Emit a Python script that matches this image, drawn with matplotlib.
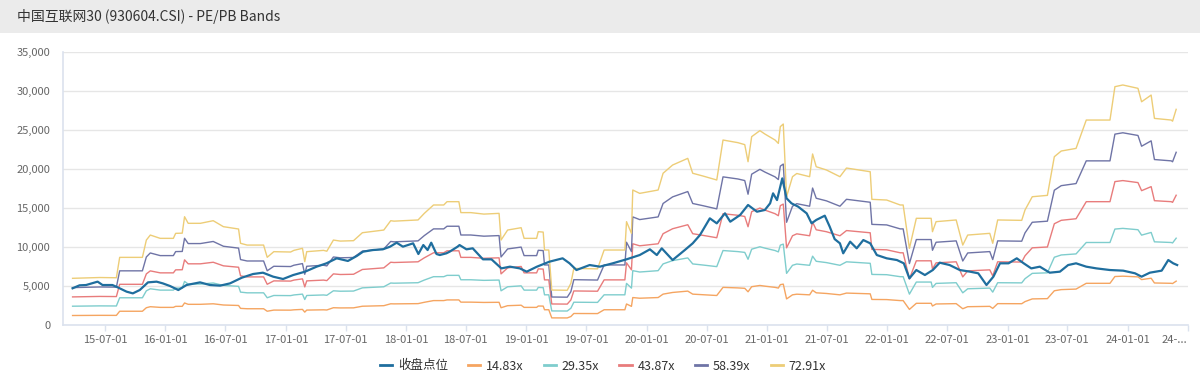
import matplotlib
matplotlib.use("Agg")
import matplotlib.pyplot as plt
import matplotlib.dates as mdates
from matplotlib.patches import Rectangle
from matplotlib.ticker import FuncFormatter, FixedLocator
import numpy as np
import pandas as pd

plt.rcParams['font.family'] = ['Noto Sans CJK SC', 'DejaVu Sans']

title = "中国互联网30 (930604.CSI) - PE/PB Bands"
close_name = "收盘点位"
multiples = [14.83, 29.35, 43.87, 58.39, 72.91]
band_names = ["14.83x", "29.35x", "43.87x", "58.39x", "72.91x"]

# Earnings per index point (band value / multiple)
eps_dates = [
    "2015-03-25", "2015-06-15", "2015-08-05", "2015-08-15", "2015-10-23", "2015-11-04",
    "2015-11-16", "2015-12-16", "2016-01-25", "2016-02-01", "2016-02-21", "2016-02-28",
    "2016-03-10", "2016-04-16", "2016-05-25", "2016-06-25", "2016-08-10", "2016-08-16",
    "2016-09-05", "2016-10-25", "2016-11-05", "2016-11-25", "2017-01-15", "2017-01-25",
    "2017-02-20", "2017-02-27", "2017-03-05", "2017-04-25", "2017-05-05", "2017-05-25",
    "2017-06-15", "2017-07-25", "2017-08-21", "2017-10-25", "2017-11-15", "2017-11-25",
    "2018-02-06", "2018-02-25", "2018-03-25", "2018-04-25", "2018-05-05", "2018-06-10",
    "2018-06-16", "2018-07-16", "2018-08-06", "2018-08-25", "2018-10-10", "2018-10-16",
    "2018-11-05", "2018-12-16", "2018-12-25", "2019-02-01", "2019-02-06", "2019-02-21",
    "2019-02-25", "2019-03-10", "2019-03-19", "2019-05-05", "2019-05-16", "2019-05-25",
    "2019-08-05", "2019-08-25", "2019-10-27", "2019-11-01", "2019-11-16", "2019-11-20",
    "2019-12-11", "2020-02-05", "2020-02-20", "2020-03-20", "2020-05-05", "2020-05-20",
    "2020-06-20", "2020-08-01", "2020-08-20", "2020-10-04", "2020-10-25", "2020-11-04",
    "2020-11-15", "2020-12-10", "2020-12-25", "2021-01-25", "2021-02-04", "2021-02-10",
    "2021-02-19", "2021-03-01", "2021-03-19", "2021-04-01", "2021-05-10", "2021-05-19",
    "2021-05-30", "2021-06-30", "2021-08-10", "2021-08-30", "2021-11-10", "2021-11-15",
    "2021-12-30", "2022-02-09", "2022-02-18", "2022-03-09", "2022-03-30", "2022-05-14",
    "2022-05-18", "2022-05-29", "2022-07-29", "2022-08-18", "2022-09-02", "2022-11-08",
    "2022-11-17", "2022-12-02", "2023-02-13", "2023-02-23", "2023-03-17", "2023-05-02",
    "2023-05-23", "2023-06-13", "2023-07-28", "2023-08-28", "2023-11-08", "2023-11-23",
    "2023-12-17", "2024-02-01", "2024-02-12", "2024-03-12", "2024-03-22", "2024-05-12",
    "2024-05-16", "2024-05-27",
]
eps_values = [
    82.0, 83.4, 83.0, 118.8, 118.8, 149.2,
    158.0, 152.2, 152.2, 161.0, 161.3, 190.2,
    178.6, 178.6, 183.2, 172.7, 168.6, 143.5,
    140.4, 140.4, 118.9, 128.8, 128.2, 131.1,
    134.7, 111.2, 128.8, 131.1, 129.6, 149.2,
    147.4, 148.1, 162.1, 166.8, 183.2, 182.4,
    184.5, 196.1, 210.8, 210.8, 216.6, 216.6,
    197.4, 197.4, 196.1, 194.8, 196.1, 149.2,
    166.8, 170.9, 152.2, 152.2, 163.9, 163.2,
    131.7, 131.7, 61.4, 61.0, 73.1, 99.4,
    98.6, 131.7, 131.7, 181.5, 161.0, 237.1,
    231.2, 237.1, 266.5, 281.0, 292.7, 266.5,
    261.7, 254.7, 324.9, 320.3, 316.8, 286.8,
    330.8, 341.4, 335.5, 324.9, 319.0, 348.4,
    353.0, 225.3, 260.5, 266.1, 260.5, 300.4,
    278.0, 272.3, 260.5, 275.7, 269.2, 220.7,
    219.5, 210.8, 210.8, 134.7, 187.4, 187.4,
    163.9, 181.5, 184.5, 140.4, 158.0, 161.0,
    143.5, 184.5, 183.8, 202.0, 225.3, 227.7,
    295.6, 305.6, 310.2, 360.0, 360.0, 418.6,
    421.6, 415.7, 392.1, 403.9, 362.9, 360.0,
    358.0, 378.8,
]

close_dates = [
    "2015-03-25", "2015-04-15", "2015-05-05", "2015-06-09", "2015-06-24", "2015-07-24",
    "2015-08-09", "2015-09-05", "2015-09-24", "2015-10-15", "2015-11-09", "2015-12-05",
    "2015-12-24", "2016-01-15", "2016-02-09", "2016-03-05", "2016-04-15", "2016-05-15",
    "2016-06-15", "2016-07-15", "2016-08-20", "2016-09-23", "2016-10-23", "2016-11-23",
    "2016-12-23", "2017-01-23", "2017-02-28", "2017-04-04", "2017-05-04", "2017-06-04",
    "2017-07-08", "2017-08-04", "2017-08-23", "2017-09-22", "2017-10-22", "2017-11-13",
    "2017-12-03", "2017-12-22", "2018-01-22", "2018-02-07", "2018-02-22", "2018-03-07",
    "2018-03-18", "2018-04-03", "2018-04-13", "2018-05-03", "2018-05-13", "2018-06-06",
    "2018-06-12", "2018-07-03", "2018-07-22", "2018-08-22", "2018-09-17", "2018-10-17",
    "2018-11-12", "2018-12-12", "2019-01-02", "2019-02-02", "2019-03-12", "2019-04-21",
    "2019-05-12", "2019-06-02", "2019-07-12", "2019-08-12", "2019-09-20", "2019-11-01",
    "2019-12-11", "2020-01-11", "2020-02-01", "2020-02-16", "2020-03-20", "2020-04-26",
    "2020-05-20", "2020-06-11", "2020-07-11", "2020-08-01", "2020-08-26", "2020-09-11",
    "2020-10-11", "2020-11-04", "2020-12-01", "2020-12-25", "2021-01-10", "2021-01-19",
    "2021-01-31", "2021-02-16", "2021-03-01", "2021-03-16", "2021-04-05", "2021-05-01",
    "2021-05-16", "2021-05-30", "2021-06-25", "2021-07-10", "2021-07-25", "2021-08-10",
    "2021-08-20", "2021-09-10", "2021-09-30", "2021-10-20", "2021-11-10", "2021-11-30",
    "2021-12-30", "2022-01-30", "2022-02-20", "2022-03-09", "2022-03-30", "2022-04-25",
    "2022-05-19", "2022-06-09", "2022-07-09", "2022-08-09", "2022-09-09", "2022-10-04",
    "2022-10-29", "2022-11-19", "2022-12-09", "2023-01-04", "2023-01-29", "2023-02-19",
    "2023-03-14", "2023-04-09", "2023-05-09", "2023-06-09", "2023-07-04", "2023-07-28",
    "2023-08-28", "2023-09-28", "2023-11-08", "2023-12-18", "2024-01-23", "2024-02-12",
    "2024-03-08", "2024-04-13", "2024-05-03", "2024-05-18", "2024-05-30",
]
close_values = [
    4700, 5080, 5120, 5550, 5120, 5120,
    4820, 4270, 4050, 4480, 5460, 5550,
    5330, 4990, 4480, 5120, 5460, 5120,
    5040, 5330, 6060, 6530, 6700, 6190,
    5890, 6400, 6830, 7470, 7900, 8540,
    8200, 8840, 9390, 9600, 9690, 10030,
    10540, 10030, 10460, 9090, 10240, 9600,
    10540, 9090, 8960, 9180, 9390, 10030,
    10240, 9690, 9820, 8410, 8410, 7250,
    7470, 7250, 6830, 7470, 8110, 8540,
    7900, 7040, 7680, 7470, 7900, 8410,
    8960, 9690, 8960, 9820, 8320, 9600,
    10460, 11520, 13660, 13020, 14300, 13230,
    14090, 15370, 14510, 14730, 15580, 16860,
    16000, 18780, 16220, 15580, 15160, 14300,
    13020, 13450, 14000, 12590, 11000, 10460,
    9180, 10670, 9820, 10880, 10460, 8960,
    8540, 8320, 7900, 5970, 7040, 6400,
    7040, 7980, 7680, 7040, 6830, 6620,
    5120, 6190, 7900, 7900, 8540, 7900,
    7250, 7470, 6700, 6830, 7680, 7900,
    7470, 7250, 7040, 6960, 6620, 6190,
    6700, 6960, 8320, 7900, 7680,
]

x_tick_dates = ["2015-07-01", "2016-01-01", "2016-07-01", "2017-01-01", "2017-07-01",
                "2018-01-01", "2018-07-01", "2019-01-01", "2019-07-01", "2020-01-01",
                "2020-07-01", "2021-01-01", "2021-07-01", "2022-01-01", "2022-07-01",
                "2023-01-01", "2023-07-01", "2024-01-01", "2024-07-01"]
x_tick_labels = ["15-07-01", "16-01-01", "16-07-01", "17-01-01", "17-07-01",
                 "18-01-01", "18-07-01", "19-01-01", "19-07-01", "20-01-01",
                 "20-07-01", "21-01-01", "21-07-01", "22-01-01", "22-07-01",
                 "23-01-01", "23-07-01", "24-01-01", "24-..."]
y_ticks = [0, 5000, 10000, 15000, 20000, 25000, 30000, 35000]

close_color = "#1f6e9e"
band_colors = ["#f5a561", "#7fcdcd", "#e87c7c", "#6f74a6", "#edcd77"]

eps_df = pd.DataFrame({"date": pd.to_datetime(eps_dates), "eps": eps_values})
close_df = pd.DataFrame({"date": pd.to_datetime(close_dates), "close": close_values})

fig = plt.figure(figsize=(12, 3.78), dpi=100)
fig.patches.append(Rectangle((0, 1 - 33 / 378), 1, 33 / 378, transform=fig.transFigure,
                             facecolor="#ebebeb", edgecolor="none", zorder=0))
fig.text(17 / 1200, 1 - 16 / 378, title, fontsize=10, color="#333333",
         ha="left", va="center")

ax = fig.add_axes([62.7 / 1200, 53 / 378, 1125 / 1200, (325 - 51.7) / 378])

ax.plot(close_df["date"], close_df["close"], color=close_color, lw=1.6,
        label=close_name, zorder=5)
for name, mult, col in zip(band_names, multiples, band_colors):
    ax.plot(eps_df["date"], eps_df["eps"] * mult, color=col, lw=1.0, label=name, zorder=3)

ax.set_ylim(0, 35000)
ax.set_xlim(pd.Timestamp("2015-02-23"), pd.Timestamp("2024-07-01"))
ax.yaxis.set_major_locator(FixedLocator(y_ticks))
ax.yaxis.set_major_formatter(FuncFormatter(lambda v, p: f"{int(v):,}"))
ax.set_xticks(pd.to_datetime(x_tick_dates))
ax.set_xticklabels(x_tick_labels)
lbls = ax.get_xticklabels()
lbls[-1].set_horizontalalignment("right")

ax.grid(axis="y", color="#e6e6e6", lw=1)
ax.set_axisbelow(True)
for s in ["top", "right"]:
    ax.spines[s].set_visible(False)
for s in ["left", "bottom"]:
    ax.spines[s].set_color("#dbe2ee")
    ax.spines[s].set_linewidth(1.2)
ax.tick_params(axis="y", length=0, pad=9, labelsize=8, labelcolor="#666666")
ax.tick_params(axis="x", length=4, width=1, color="#dbe2ee", pad=3, labelsize=8,
               labelcolor="#666666")

handles, labels = ax.get_legend_handles_labels()
leg = fig.legend(handles, labels, loc="center", bbox_to_anchor=(603 / 1200, 12 / 378),
                 ncol=6, frameon=False, fontsize=9, handlelength=1.0,
                 handletextpad=0.45, columnspacing=1.6)
for line in leg.get_lines():
    line.set_linewidth(2)
for t in leg.get_texts():
    t.set_color("#333333")

fig.savefig("out.png", dpi=100)
